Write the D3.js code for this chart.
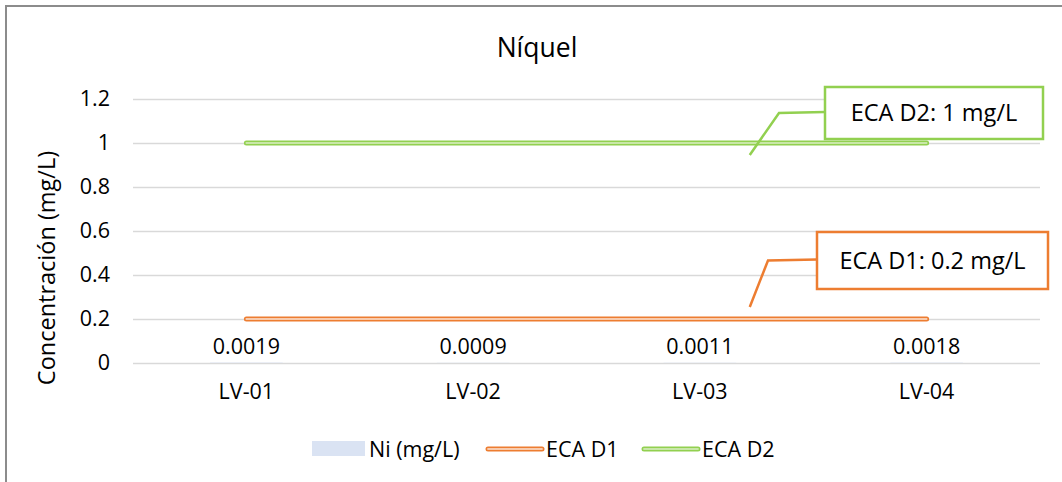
<!DOCTYPE html>
<html>
<head>
<meta charset="utf-8">
<script src="https://cdn.jsdelivr.net/npm/d3@7"></script>
<style>
  html, body { margin: 0; padding: 0; background: #fff; }
  svg { display: block; font-family: "Open Sans", Lato, sans-serif; }
</style>
</head>
<body>
<svg id="chart" width="1062" height="482"></svg>
<script>
// Sampling points and measured nickel concentration
const categories = ["LV-01", "LV-02", "LV-03", "LV-04"];
const niValues = [0.0019, 0.0009, 0.0011, 0.0018];
// Environmental quality standards (ECA) per category
const ecaD1 = [0.2, 0.2, 0.2, 0.2];
const ecaD2 = [1, 1, 1, 1];
const yTicks = [0, 0.2, 0.4, 0.6, 0.8, 1, 1.2];
const seriesNames = ["Ni (mg/L)", "ECA D1", "ECA D2"];
const calloutTexts = ["ECA D1: 0.2 mg/L", "ECA D2: 1 mg/L"];

const svg = d3.select("#chart");
const W = 1062, H = 482;
const plot = { left: 133, right: 1040, top: 99, bottom: 363 };
const FONT = "Open Sans";
const TICK_SIZE = 21.5;

const colors = {
  bar: "#dae3f3",
  d1: "#ed7d31", d1in: "#f8cbad",
  d2: "#92d050", d2in: "#c9e7a8",
  grid: "#d9d9d9", text: "#000"
};

// chart frame
svg.append("rect")
  .attr("x", 6).attr("y", 6).attr("width", W + 10).attr("height", H + 10)
  .attr("fill", "#fff").attr("stroke", "#8c8c8c").attr("stroke-width", 2);

const x = d3.scaleBand().domain(categories).range([plot.left, plot.right]);
const y = d3.scaleLinear().domain([0, 1.2]).range([plot.bottom, plot.top]);
const cx = d => x(d) + x.bandwidth() / 2;

// gridlines
svg.append("g")
  .attr("transform", `translate(${plot.left},0)`)
  .call(d3.axisLeft(y).tickValues(yTicks).tickSize(-(plot.right - plot.left)).tickFormat(""))
  .call(g => g.select(".domain").remove())
  .call(g => g.selectAll("line").attr("stroke", colors.grid).attr("stroke-width", 1.5));

// y tick labels
svg.append("g")
  .attr("transform", `translate(${plot.left},0)`)
  .call(d3.axisLeft(y).tickValues(yTicks).tickSize(0).tickPadding(23).tickFormat(d => String(+d.toFixed(1))))
  .call(g => g.select(".domain").remove())
  .call(g => g.selectAll("text").attr("font-size", TICK_SIZE).attr("fill", colors.text).attr("font-family", FONT));

// x tick labels
svg.append("g")
  .attr("transform", `translate(0,${plot.bottom})`)
  .call(d3.axisBottom(x).tickSize(0).tickPadding(21))
  .call(g => g.select(".domain").remove())
  .call(g => g.selectAll("text").attr("font-size", TICK_SIZE).attr("fill", colors.text).attr("font-family", FONT));

// Ni bars
const barW = x.bandwidth() * 0.32;
svg.append("g").selectAll("rect")
  .data(niValues)
  .join("rect")
  .attr("x", (d, i) => cx(categories[i]) - barW / 2)
  .attr("y", d => y(d))
  .attr("width", barW)
  .attr("height", d => y(0) - y(d))
  .attr("fill", colors.bar);

// Ni data labels
svg.append("g").selectAll("text")
  .data(niValues)
  .join("text")
  .attr("x", (d, i) => cx(categories[i]))
  .attr("y", d => y(d) - 9)
  .attr("text-anchor", "middle")
  .attr("font-size", TICK_SIZE)
  .attr("fill", colors.text)
  .text(d => d.toFixed(4));

// ECA lines: coloured outline with lighter core
const line = d3.line().x((d, i) => cx(categories[i])).y(d => y(d));
function doubleLine(g, data, outer, inner) {
  g.append("path").attr("d", line(data)).attr("fill", "none")
    .attr("stroke", outer).attr("stroke-width", 5).attr("stroke-linecap", "round");
  g.append("path").attr("d", line(data)).attr("fill", "none")
    .attr("stroke", inner).attr("stroke-width", 1.8).attr("stroke-linecap", "round");
}
doubleLine(svg.append("g"), ecaD1, colors.d1, colors.d1in);
doubleLine(svg.append("g"), ecaD2, colors.d2, colors.d2in);

// callouts for the ECA thresholds
function callout(value, text, color, box, elbow, tipDy) {
  const g = svg.append("g");
  const tipX = cx("LV-03") + x.bandwidth() * 0.22;
  const tipY = y(value) + tipDy;
  const midY = box.y + box.h / 2;
  g.append("polyline")
    .attr("points", `${tipX},${tipY} ${elbow},${midY} ${box.x},${midY - 1}`)
    .attr("fill", "none").attr("stroke", color).attr("stroke-width", 2.5);
  g.append("rect")
    .attr("x", box.x).attr("y", box.y).attr("width", box.w).attr("height", box.h)
    .attr("fill", "#fff").attr("stroke", color).attr("stroke-width", 2.5);
  g.append("text")
    .attr("x", box.x + box.w / 2).attr("y", midY)
    .attr("dy", "0.35em").attr("text-anchor", "middle")
    .attr("font-size", 23.5).attr("fill", colors.text)
    .text(text);
}
callout(ecaD1[3], calloutTexts[0], colors.d1, { x: 817, y: 232, w: 231, h: 57 }, 768, -12);
callout(ecaD2[3], calloutTexts[1], colors.d2, { x: 825, y: 87, w: 218, h: 52 }, 779, 12);

// title
svg.append("text")
  .attr("x", 537).attr("y", 57)
  .attr("text-anchor", "middle")
  .attr("font-size", 26.5).attr("fill", colors.text)
  .text("Níquel");

// y axis title
svg.append("text")
  .attr("transform", "translate(55,268) rotate(-90)")
  .attr("text-anchor", "middle")
  .attr("font-size", 23.5).attr("fill", colors.text)
  .text("Concentración (mg/L)");

// legend
const legend = svg.append("g");
legend.append("rect").attr("x", 312).attr("y", 441).attr("width", 53).attr("height", 15).attr("fill", colors.bar);
legend.append("text").attr("x", 369).attr("y", 449).attr("dy", "0.35em")
  .attr("font-size", 21.5).attr("fill", colors.text).text(seriesNames[0]);

function legendLine(x0, outer, inner, label) {
  legend.append("line").attr("x1", x0).attr("x2", x0 + 54).attr("y1", 449).attr("y2", 449)
    .attr("stroke", outer).attr("stroke-width", 5).attr("stroke-linecap", "round");
  legend.append("line").attr("x1", x0).attr("x2", x0 + 54).attr("y1", 449).attr("y2", 449)
    .attr("stroke", inner).attr("stroke-width", 1.8).attr("stroke-linecap", "round");
  legend.append("text").attr("x", x0 + 58).attr("y", 449).attr("dy", "0.35em")
    .attr("font-size", 21.5).attr("fill", colors.text).text(label);
}
legendLine(488, colors.d1, colors.d1in, seriesNames[1]);
legendLine(644, colors.d2, colors.d2in, seriesNames[2]);
</script>
</body>
</html>
